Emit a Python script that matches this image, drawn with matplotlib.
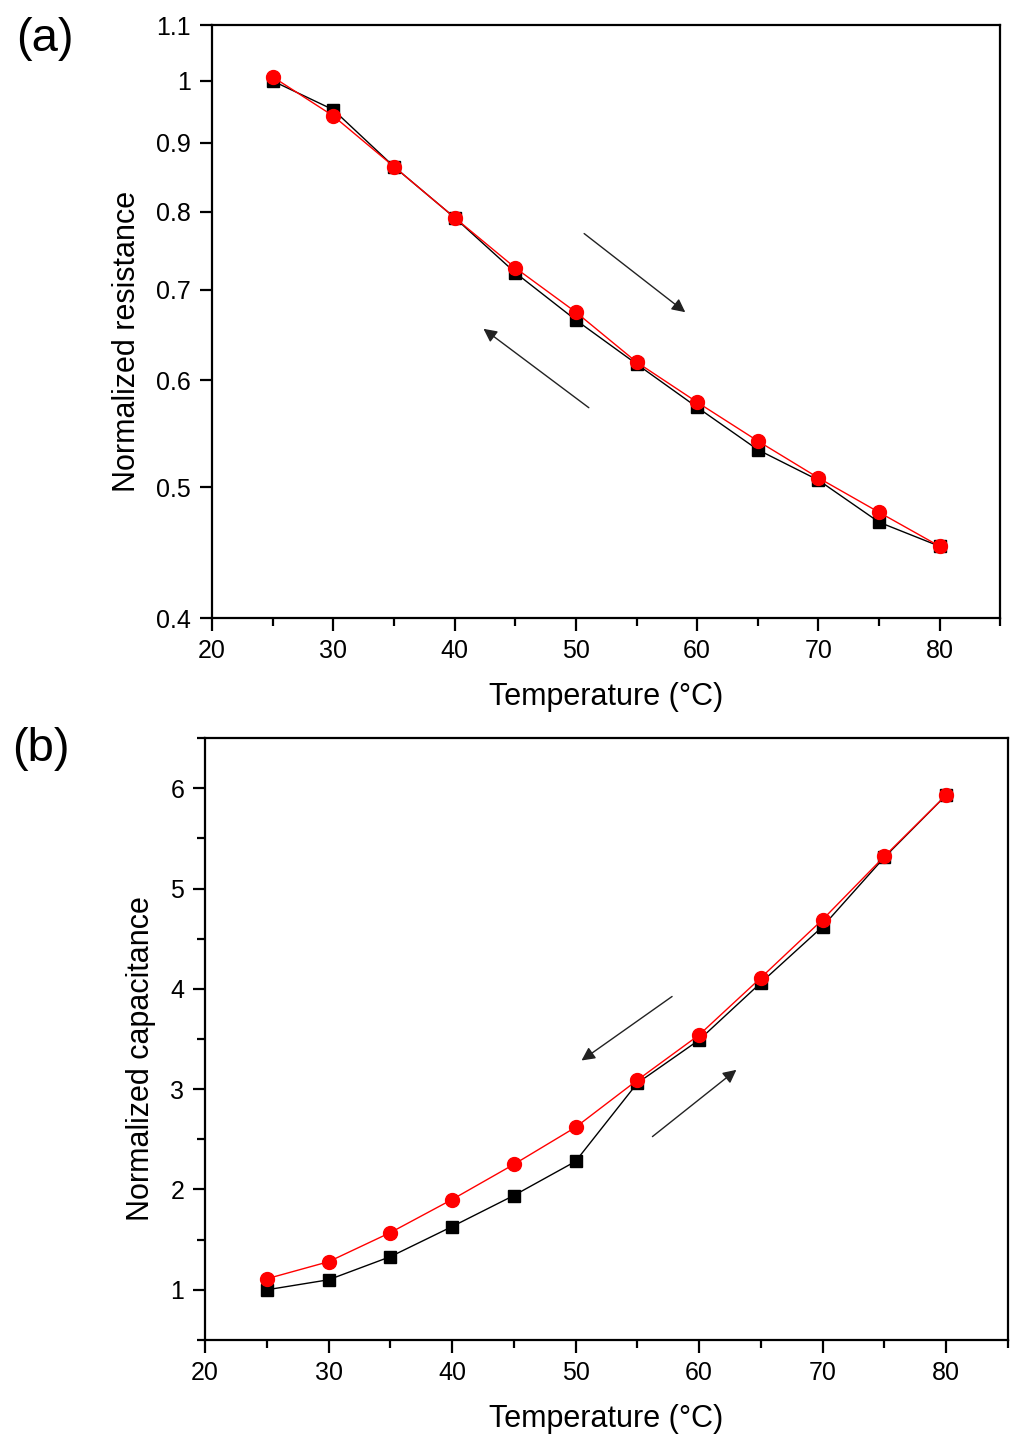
import numpy as np
import matplotlib
matplotlib.use("Agg")
from matplotlib import pyplot as plt
from matplotlib.ticker import FixedLocator, FixedFormatter, MultipleLocator, NullLocator

plt.rcParams['font.family'] = ['Liberation Sans', 'DejaVu Sans']

temp = [25, 30, 35, 40, 45, 50, 55, 60, 65, 70, 75, 80]

# (a) normalized resistance
res_heat = [1.0, 0.952, 0.864, 0.792, 0.721, 0.665, 0.617, 0.573, 0.533, 0.506, 0.471, 0.452]
res_cool = [1.007, 0.942, 0.864, 0.792, 0.727, 0.674, 0.619, 0.578, 0.541, 0.508, 0.479, 0.452]

# (b) normalized capacitance
cap_heat = [1.0, 1.10, 1.33, 1.63, 1.94, 2.28, 3.06, 3.49, 4.06, 4.62, 5.31, 5.93]
cap_cool = [1.11, 1.28, 1.57, 1.90, 2.25, 2.62, 3.09, 3.54, 4.11, 4.69, 5.32, 5.93]

res_ticks = [0.4, 0.5, 0.6, 0.7, 0.8, 0.9, 1.0, 1.1]
res_labels = ["0.4", "0.5", "0.6", "0.7", "0.8", "0.9", "1", "1.1"]

fig = plt.figure(figsize=(10.24, 14.48), dpi=100)
ax1 = fig.add_axes([0.207, 0.5732, 0.770, 0.4095])
ax2 = fig.add_axes([0.2002, 0.0746, 0.784, 0.4157])


def style(ax):
    for s in ax.spines.values():
        s.set_linewidth(1.6)
    ax.tick_params(which='both', direction='out', width=1.6, labelsize=18,
                   top=False, right=False, pad=6)
    ax.tick_params(which='major', length=9)
    ax.tick_params(which='minor', length=6)
    ax.xaxis.set_major_locator(MultipleLocator(10))
    ax.xaxis.set_minor_locator(MultipleLocator(5))
    ax.set_xlim(20, 85)
    ax.set_xlabel("Temperature (\u00b0C)", fontsize=22, labelpad=14)


arr = dict(arrowstyle='-|>', color='#222222', lw=1, mutation_scale=20)

# panel a
ax1.plot(temp, res_heat, color='black', lw=1, marker='s', ms=9, zorder=3)
ax1.plot(temp, res_cool, color='red', lw=1, marker='o', ms=10, zorder=4)
ax1.set_yscale('log')
ax1.set_ylim(0.4, 1.1)
ax1.yaxis.set_major_locator(FixedLocator(res_ticks))
ax1.yaxis.set_major_formatter(FixedFormatter(res_labels))
ax1.yaxis.set_minor_locator(NullLocator())
style(ax1)
ax1.set_ylabel("Normalized resistance", fontsize=22)
ax1.yaxis.set_label_coords(-0.089, 0.467)
ax1.annotate("", xy=(59.2, 0.672), xytext=(50.5, 0.773), arrowprops=arr)
ax1.annotate("", xy=(42.2, 0.657), xytext=(51.25, 0.571), arrowprops=arr)
fig.text(0.016, 0.973, "(a)", fontsize=34, va='center')

# panel b
ax2.plot(temp, cap_heat, color='black', lw=1, marker='s', ms=9, zorder=3)
ax2.plot(temp, cap_cool, color='red', lw=1, marker='o', ms=10, zorder=4)
ax2.set_ylim(0.5, 6.5)
ax2.yaxis.set_major_locator(MultipleLocator(1))
ax2.yaxis.set_minor_locator(MultipleLocator(0.5))
style(ax2)
ax2.set_ylabel("Normalized capacitance", fontsize=22)
ax2.yaxis.set_label_coords(-0.061, 0.468)
ax2.annotate("", xy=(50.3, 3.27), xytext=(58.0, 3.94), arrowprops=arr)
ax2.annotate("", xy=(63.2, 3.21), xytext=(56.05, 2.51), arrowprops=arr)
fig.text(0.012, 0.483, "(b)", fontsize=34, va='center')

fig.savefig("out.png", dpi=100)
